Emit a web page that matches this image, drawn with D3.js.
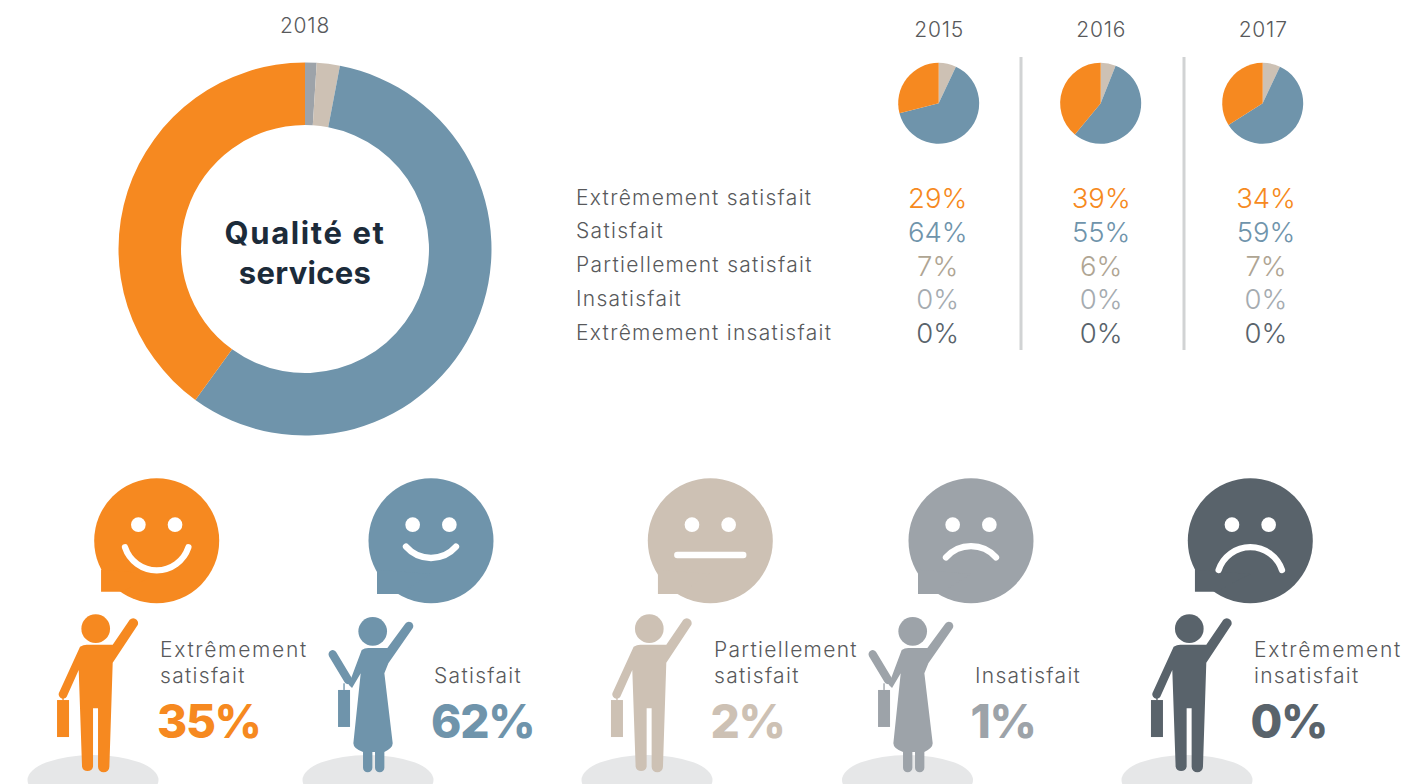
<!DOCTYPE html>
<html>
<head>
<meta charset="utf-8">
<script src="https://cdn.jsdelivr.net/npm/d3@7"></script>
<style>
  html, body { margin: 0; padding: 0; background: #fff; }
  svg { display: block; }
  text { font-family: "Inter", "Open Sans", sans-serif; font-weight: 300; fill: #58595b; }
  .label { font-size: 21px; letter-spacing: 1.3px; }
  .year { font-size: 21px; letter-spacing: 0.8px; }
</style>
</head>
<body>
<svg id="chart" width="1421" height="784"></svg>
<script>
const categories = ["Extrêmement satisfait", "Satisfait", "Partiellement satisfait", "Insatisfait", "Extrêmement insatisfait"];
const years = ["2015", "2016", "2017"];
const values2015 = [29, 64, 7, 0, 0];
const values2016 = [39, 55, 6, 0, 0];
const values2017 = [34, 59, 7, 0, 0];
// 2018 ring as drawn in the picture, the labels below say something a bit different
const ring2018 = [40, 57, 2, 1, 0];
const labels2018 = [35, 62, 2, 1, 0];
const colors = ["#f68920", "#6f94ab", "#cdc1b4", "#9da3a9", "#59636b"];
const tableColors = ["#f68920", "#6f94ab", "#afa593", "#a5abb0", "#59636b"];

const svg = d3.select("#chart");

// pie order in the source runs clockwise from the top, last category first
const pie = d3.pie().sort(null).value((d) => d.value);
const toSlices = (vals) =>
  pie(vals.map((value, i) => ({ value, color: colors[i] })).reverse());

// 2018 ring
const ring = svg.append("g").attr("transform", "translate(305,249)");
ring
  .selectAll("path")
  .data(toSlices(ring2018))
  .enter()
  .append("path")
  .attr("fill", (d) => d.data.color)
  .attr("d", d3.arc().innerRadius(124).outerRadius(186.5));

svg.append("text").attr("class", "year").attr("x", 305).attr("y", 33).attr("text-anchor", "middle").text("2018");

ring
  .selectAll(".title")
  .data(["Qualité et", "services"])
  .enter()
  .append("text")
  .attr("class", "title")
  .attr("y", (d, i) => -5 + i * 40)
  .attr("text-anchor", "middle")
  .style("font-size", "31px")
  .style("font-weight", 700)
  .style("letter-spacing", (d, i) => (i === 0 ? "1.6px" : "0.3px"))
  .style("fill", "#1c2b3a")
  .text((d) => d);

// small pies and the table
const columnX = d3.scalePoint().domain(years).range([938.7, 1262.7]);
const rowY = d3.scalePoint().domain(categories).range([208, 343]);
const smallArc = d3.arc().innerRadius(0).outerRadius(40.5);
// the percent columns do not sit quite under their pies
const percentShift = [-1, 0.5, 3.3];

[values2015, values2016, values2017].forEach((vals, k) => {
  const x = columnX(years[k]);
  svg.append("text").attr("class", "year").attr("x", x + 0.5).attr("y", 37).attr("text-anchor", "middle").text(years[k]);
  svg.append("g").attr("transform", `translate(${x},103.3)`)
    .selectAll("path")
    .data(toSlices(vals))
    .enter()
    .append("path")
    .attr("fill", (d) => d.data.color)
    .attr("d", smallArc);
  svg.append("g")
    .selectAll("text")
    .data(vals)
    .enter()
    .append("text")
    .attr("x", x + percentShift[k])
    .attr("y", (d, i) => rowY(categories[i]))
    .attr("text-anchor", "middle")
    .style("font-size", "27.5px")
    .style("fill", (d, i) => tableColors[i])
    .text((d) => d + "%");
});

svg.append("g")
  .selectAll("text")
  .data(categories)
  .enter()
  .append("text")
  .attr("class", "label")
  .attr("x", 576)
  .attr("y", (d) => rowY(d) - 3.5)
  .text((d) => d);

svg.append("g")
  .selectAll("line")
  .data([1021, 1184])
  .enter()
  .append("line")
  .attr("x1", (d) => d).attr("x2", (d) => d)
  .attr("y1", 57).attr("y2", 350)
  .attr("stroke", "#d1d3d4").attr("stroke-width", 3);

// figures, traced at 3x so they are drawn scaled by 1/3 around the head
const manBody = "M-47,54 Q-37,48 -27,48 L51,48 L99,-22 A12.5,12.5 0 0 1 126,-11 L51,102 L41,414 A17,17 0 0 1 7,414 L7,239 L-8,239 L-8,414 A17,17 0 0 1 -41,414 L-51,124 L-87,204 A12.5,12.5 0 0 1 -109,190 Z";
const womanBody = "M-33,56 Q-25,50 -13,50 L44,50 L97,-22 A13,13 0 0 1 120,-9 L47,96 L35,126 L60,336 Q60,350 35,362 L35,409 A14,14 0 0 1 7,409 L7,362 L-1,362 L-1,409 A14,14 0 0 1 -29,409 L-29,362 Q-58,352 -58,336 L-36,126 L-62,170 L-72,160 Z";
const womanArm = "M-120,69 L-74,146";

const figures = [
  { kind: "man", x: 95.7, y: 628.7, shadow: 93, caseX: -116 },
  { kind: "woman", x: 372.7, y: 631.3, shadow: 368, caseX: -104 },
  { kind: "man", x: 649.3, y: 628.7, shadow: 647, caseX: -115 },
  { kind: "woman", x: 912.7, y: 631.3, shadow: 907.5, caseX: -104 },
  { kind: "man", x: 1189.3, y: 628.7, shadow: 1187, caseX: -115 },
];

svg.append("g")
  .selectAll("ellipse")
  .data(figures)
  .enter()
  .append("ellipse")
  .attr("cx", (d) => d.shadow)
  .attr("cy", 780)
  .attr("rx", 65.5)
  .attr("ry", 25)
  .attr("fill", "#e6e7e8");

figures.forEach((f, i) => {
  const g = svg.append("g")
    .attr("transform", `translate(${f.x},${f.y}) scale(${1 / 3})`)
    .attr("fill", colors[i]);
  g.append("circle").attr("r", 43);
  g.append("path").attr("d", f.kind === "man" ? manBody : womanBody);
  if (f.kind === "woman") {
    g.append("path").attr("d", womanArm).attr("fill", "none")
      .attr("stroke", colors[i]).attr("stroke-width", 25).attr("stroke-linecap", "round");
  }
  const top = f.kind === "man" ? 214 : 176;
  g.append("rect").attr("x", f.caseX).attr("y", top).attr("width", 36).attr("height", 111);
  g.append("rect").attr("x", f.caseX + 16).attr("y", top - 20).attr("width", 4).attr("height", 20);
});

// speech bubble faces
const faces = [
  { x: 156.7, tailX: -167, tailEnd: -105, tail: 153, mouth: "M-95,20 A100,100 0 0 0 95,20" },
  { x: 431, tailX: -162, tailEnd: -96, tail: 160, mouth: "M-75,18 A100,100 0 0 0 75,18" },
  { x: 710.3, tailX: -157, tailEnd: -94, tail: 160, mouth: "M-99,43 L99,43" },
  { x: 971, tailX: -159, tailEnd: -96, tail: 160, mouth: "M-75,50 A100,100 0 0 1 75,50" },
  { x: 1250.3, tailX: -166, tailEnd: -103, tail: 153, mouth: "M-95,88 A100,100 0 0 1 95,88" },
];

faces.forEach((f, i) => {
  const g = svg.append("g").attr("transform", `translate(${f.x},540.7) scale(${1 / 3})`);
  g.append("circle").attr("r", 187.5).attr("fill", colors[i]);
  g.append("path").attr("d", `M${f.tailX},87 L${f.tailX},${f.tail} L${f.tailEnd},${f.tail} L0,100 Z`).attr("fill", colors[i]);
  g.selectAll(".eye").data([-55, 55]).enter().append("circle")
    .attr("class", "eye").attr("cx", (d) => d).attr("cy", -48).attr("r", 22).attr("fill", "#fff");
  g.append("path").attr("d", f.mouth).attr("fill", "none")
    .attr("stroke", "#fff").attr("stroke-width", 19).attr("stroke-linecap", "round");
});

// captions under the faces
const captions = [
  { x: 160, lines: ["Extrêmement", "satisfait"], px: 157 },
  { x: 434, lines: ["Satisfait"], px: 431 },
  { x: 714, lines: ["Partiellement", "satisfait"], px: 710.5 },
  { x: 975, lines: ["Insatisfait"], px: 970.5 },
  { x: 1254, lines: ["Extrêmement", "insatisfait"], px: 1250.5 },
];

captions.forEach((c, i) => {
  svg.append("g")
    .selectAll("text")
    .data(c.lines)
    .enter()
    .append("text")
    .attr("class", "label")
    .attr("x", c.x)
    .attr("y", (d, j) => (c.lines.length === 2 ? 657 + j * 26 : 683))
    .style("letter-spacing", (d) => (d === "Extrêmement" ? "1.7px" : null))
    .text((d) => d);
  svg.append("text")
    .attr("x", c.px)
    .attr("y", 738)
    .style("font-size", "46px")
    .style("font-weight", 800)
    .style("letter-spacing", "-1.3px")
    .style("fill", colors[i])
    .text(labels2018[i] + "%");
});
</script>
</body>
</html>
